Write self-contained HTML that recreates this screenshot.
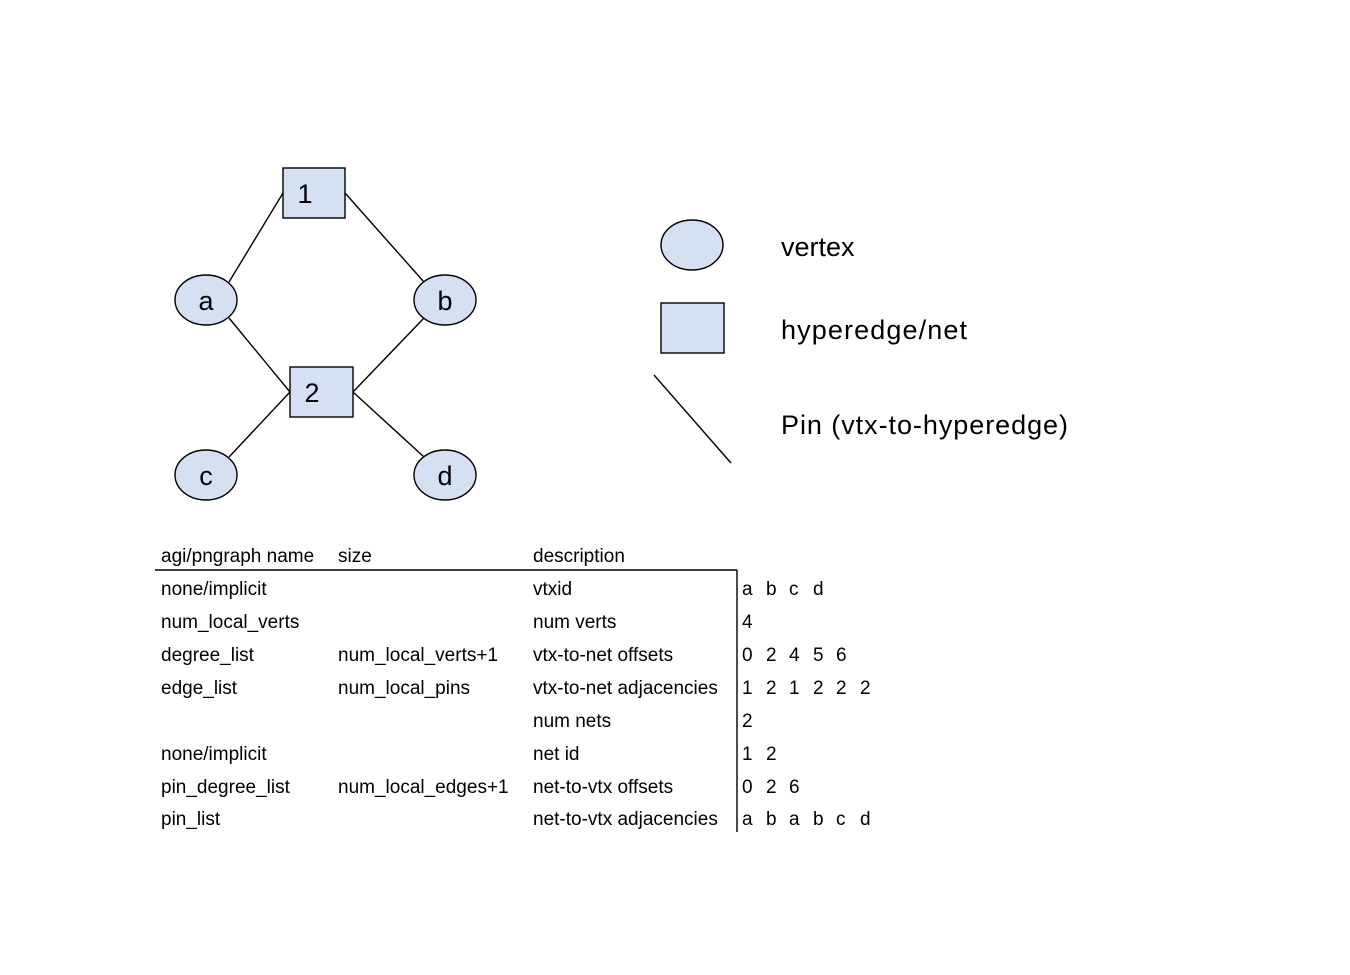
<!DOCTYPE html>
<html><head><meta charset="utf-8"><style>
html,body{margin:0;padding:0;background:#fff;}
svg{display:block;}
text{font-family:"Liberation Sans",Arial,sans-serif;fill:#000;}
</style></head><body>
<svg width="1350" height="975" viewBox="0 0 1350 975" xmlns="http://www.w3.org/2000/svg">
<g stroke="#000" stroke-width="1.4" fill="none">
<line x1="283" y1="193" x2="229" y2="282"/>
<line x1="345" y1="193" x2="424" y2="282"/>
<line x1="229" y1="318" x2="290" y2="392"/>
<line x1="424" y1="318" x2="353" y2="392"/>
<line x1="229" y1="457" x2="290" y2="392"/>
<line x1="424" y1="457" x2="353" y2="392"/>
<line x1="654" y1="375" x2="731" y2="463"/>
</g>
<g fill="#d5e1f2" stroke="#000" stroke-width="1.4">
<rect x="283" y="168" width="62" height="50"/>
<rect x="290" y="367" width="63" height="50"/>
<ellipse cx="206" cy="300" rx="31" ry="25"/>
<ellipse cx="445" cy="300" rx="31" ry="25"/>
<ellipse cx="206" cy="475" rx="31" ry="25"/>
<ellipse cx="445" cy="475" rx="31" ry="25"/>
<ellipse cx="692" cy="245" rx="31" ry="25"/>
<rect x="661" y="303" width="63" height="50"/>
</g>
<g font-size="27">
<text x="305" y="203" text-anchor="middle">1</text>
<text x="312" y="402" text-anchor="middle">2</text>
<text x="206" y="310" text-anchor="middle">a</text>
<text x="445" y="310" text-anchor="middle">b</text>
<text x="206" y="485" text-anchor="middle">c</text>
<text x="445" y="485" text-anchor="middle">d</text>
<text x="781" y="256">vertex</text>
<text x="781" y="339" textLength="186">hyperedge/net</text>
<text x="781" y="434" textLength="287">Pin (vtx-to-hyperedge)</text>
</g>
<g stroke="#000" stroke-width="1.4">
<line x1="155" y1="570" x2="737" y2="570"/>
<line x1="737" y1="570" x2="737" y2="832"/>
</g>
<g font-size="19">
<text x="161" y="562">agi/pngraph name</text>
<text x="338" y="562">size</text>
<text x="533" y="562">description</text>

<text x="161" y="595">none/implicit</text>
<text x="533" y="595">vtxid</text>
<text x="161" y="628">num_local_verts</text>
<text x="533" y="628">num verts</text>
<text x="161" y="661">degree_list</text>
<text x="338" y="661">num_local_verts+1</text>
<text x="533" y="661">vtx-to-net offsets</text>
<text x="161" y="694">edge_list</text>
<text x="338" y="694">num_local_pins</text>
<text x="533" y="694">vtx-to-net adjacencies</text>
<text x="533" y="727">num nets</text>
<text x="161" y="760">none/implicit</text>
<text x="533" y="760">net id</text>
<text x="161" y="793">pin_degree_list</text>
<text x="338" y="793">num_local_edges+1</text>
<text x="533" y="793">net-to-vtx offsets</text>
<text x="161" y="825">pin_list</text>
<text x="533" y="825">net-to-vtx adjacencies</text>

<text y="595"><tspan x="742">a</tspan><tspan x="766">b</tspan><tspan x="789">c</tspan><tspan x="813">d</tspan></text>
<text x="742" y="628">4</text>
<text y="661"><tspan x="742">0</tspan><tspan x="766">2</tspan><tspan x="789">4</tspan><tspan x="813">5</tspan><tspan x="836">6</tspan></text>
<text y="694"><tspan x="742">1</tspan><tspan x="766">2</tspan><tspan x="789">1</tspan><tspan x="813">2</tspan><tspan x="836">2</tspan><tspan x="860">2</tspan></text>
<text x="742" y="727">2</text>
<text y="760"><tspan x="742">1</tspan><tspan x="766">2</tspan></text>
<text y="793"><tspan x="742">0</tspan><tspan x="766">2</tspan><tspan x="789">6</tspan></text>
<text y="825"><tspan x="742">a</tspan><tspan x="766">b</tspan><tspan x="789">a</tspan><tspan x="813">b</tspan><tspan x="836">c</tspan><tspan x="860">d</tspan></text>
</g>
</svg>
</body></html>
